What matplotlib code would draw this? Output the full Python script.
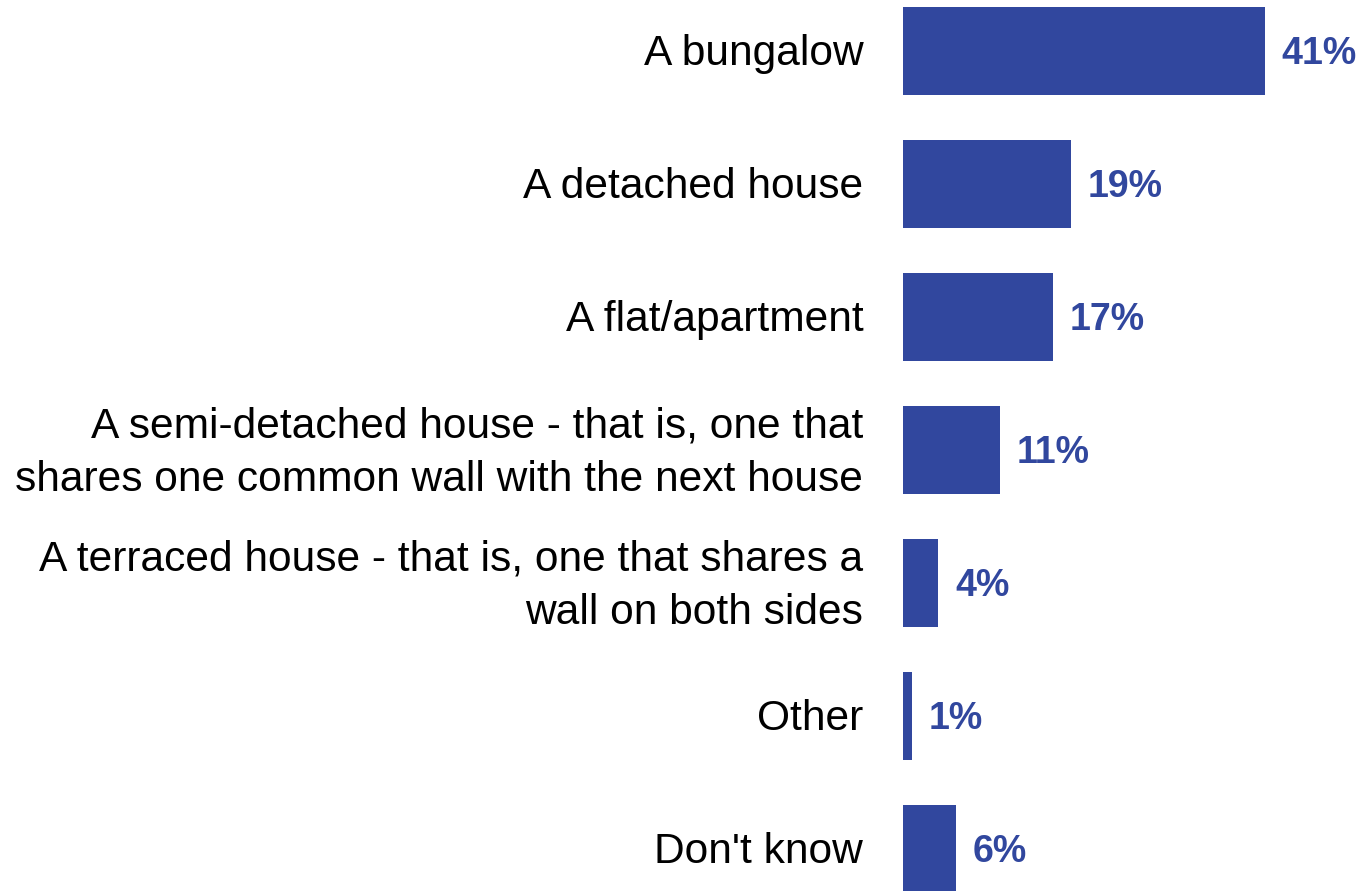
import matplotlib
matplotlib.use("Agg")
import matplotlib.pyplot as plt

categories = [
    "A bungalow",
    "A detached house",
    "A flat/apartment",
    "A semi-detached house - that is, one that\nshares one common wall with the next house",
    "A terraced house - that is, one that shares a\nwall on both sides",
    "Other",
    "Don't know",
]
values = [41, 19, 17, 11, 4, 1, 6]
value_labels = ["41%", "19%", "17%", "11%", "4%", "1%", "6%"]

bar_color = "#31479E"
plt.rcParams["font.family"] = ["Liberation Sans", "DejaVu Sans"]

fig = plt.figure(figsize=(13.63, 8.91), dpi=100)
ax = fig.add_axes([903 / 1363, 0, 1 - 903 / 1363, 1])

y = list(range(len(categories)))
ax.barh(y, values, height=0.66, color=bar_color)

for yi, v, lab in zip(y, values, value_labels):
    ax.text(v + 1.9, yi + 0.025, lab, va="center", ha="left", fontsize=27,
            fontweight="bold", color=bar_color)

for yi, cat in zip(y, categories):
    ax.text(-4.5, yi + 0.025, cat, va="center", ha="right", fontsize=30.6,
            color="black", linespacing=1.42, clip_on=False)

ax.set_xlim(0, 460 / 8.83)
ax.set_ylim(6 + 42 / 133, -51 / 133)
ax.axis("off")

fig.savefig("out.png", dpi=100)
